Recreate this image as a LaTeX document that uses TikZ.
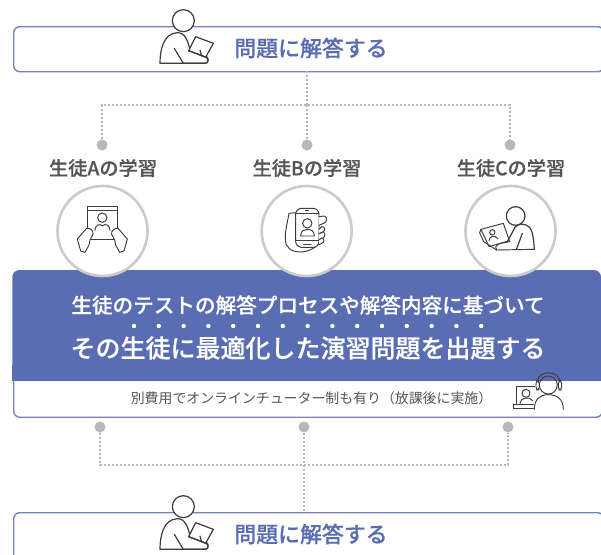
\documentclass[tikz,border=0pt]{standalone}
\usepackage{fontspec}
\setmainfont{Noto Sans CJK JP}
\newfontfamily\semibold{Noto Sans CJK JP Medium}[FakeBold=0.3]
\definecolor{brand}{HTML}{5A6DB2}
\definecolor{dotgrey}{HTML}{B8B8B8}
\definecolor{ringgrey}{HTML}{CBCBCB}
\definecolor{ink}{HTML}{3C3C3C}
\definecolor{labelgrey}{HTML}{555555}
\tikzset{
  panel/.style={draw=brand!85!white,line width=1.4pt,fill=white,rounded corners=6pt},
  titletext/.style={text=brand,font=\fontsize{21.9}{21.9}\selectfont\semibold,inner sep=0pt},
  labeltext/.style={text=labelgrey,font=\fontsize{19.2}{19.2}\selectfont\semibold,inner sep=0pt},
  ring/.style={circle,draw=ringgrey,line width=2.6pt,fill=white,minimum size=90pt,inner sep=0pt},
  gdot/.style={circle,fill=dotgrey,minimum size=11pt,inner sep=0pt},
  link/.style={draw=dotgrey,line width=2.6pt,dash pattern=on 2.4pt off 1.6pt},
  icon/.style={draw=ink,line width=1.2pt,line join=round,line cap=round},
  thin icon/.style={draw=ink,line width=0.95pt,line join=round,line cap=round},
}
\newcommand{\readericon}[2]{%
\begin{scope}[shift={(#1,#2)},x=0.3333pt,y=-0.3333pt]
  \fill[white] (130,62) circle (33);
  \draw[icon,fill=white] (60,190) .. controls (60,150) and (70,100) .. (112,98) .. controls (135,97) and (145,125) .. (150,150) -- (200,170) .. controls (208,178) and (205,190) .. (195,190) -- cycle;
  \draw[icon] (130,62) circle (33);
  \draw[icon] (103,145) -- (130,190) -- (195,190);
  \draw[icon,fill=white] (167,110) -- (220,130) -- (197,172) -- (146,152) -- cycle;
  \draw[icon] (146,152) -- (190,168) .. controls (208,172) and (208,190) .. (195,190);
  \draw[icon] (180,150) -- (185,168);
\end{scope}}
\begin{document}
\begin{tikzpicture}[x=1pt,y=-1pt]
\useasboundingbox (0,0) rectangle (601,554);
\fill[white] (0,0) rectangle (601,554);

% boxes
\begin{scope}
\clip (0,0) rectangle (601,554);
\node[panel,anchor=north west,minimum width=590pt,minimum height=45pt] (topbox) at (13,26) {};
\node[panel,anchor=north west,minimum width=590pt,minimum height=60pt] (botbox) at (13,512) {};
\node[panel,anchor=north west,minimum width=588.5pt,minimum height=46pt] (lower) at (13,370.5) {};
\fill[brand,rounded corners=7pt] (12.3,375) -- (12.3,270) -- (601,270) -- (601,375) -- cycle;
\fill[brand] (12.3,365) rectangle (601,380.5);
\end{scope}
\node[panel,draw=none,fill=none,anchor=north west,minimum width=588pt,minimum height=110pt] (main) at (13,270) {};

% connectors
\coordinate (tj) at (307,105);
\coordinate (tl) at (102,105);
\coordinate (tr) at (510,105);
\coordinate (bj) at (304,465);
\coordinate (bl) at (100,465);
\coordinate (br) at (508,465);
\node[gdot] (da) at (102,145) {};
\node[gdot] (db) at (307,145) {};
\node[gdot] (dc) at (510,145) {};
\node[gdot] (ea) at (100,427) {};
\node[gdot] (eb) at (304,427) {};
\node[gdot] (ec) at (508,427) {};
\draw[link] (307,71) -- (tj);
\draw[link] (da) -- (tl) -- (tr) -- (dc);
\draw[link] (tj) -- (db);
\draw[link] (ea) -- (bl) -- (br) -- (ec);
\draw[link] (eb) -- (bj) -- (304,512);

% reader icons
\readericon{140}{0}
\readericon{140}{486}

% titles
\node[titletext] (t1) at (311,48) {問題に解答する};
\node[titletext] (t2) at (311,534) {問題に解答する};
\node[labeltext] (la) at (103,168) {生徒Aの学習};
\node[labeltext] (lb) at (307,168) {生徒Bの学習};
\node[labeltext] (lc) at (511,168) {生徒Cの学習};

% circles
\node[ring] (ca) at (102.5,231) {};
\node[ring] (cb) at (306.7,231) {};
\node[ring] (cc) at (510.5,231) {};

% tablet icon
\begin{scope}[shift={(70,195)},x=0.3333pt,y=-0.3333pt]
  \draw[thin icon] (52,112) -- (52,33) -- (142,33) -- (142,112);
  \draw[thin icon] (52,46) -- (142,46);
  \draw[thin icon] (62,133) -- (132,133);
  \draw[thin icon] (97,68) circle (14);
  \draw[thin icon] (75,106) .. controls (75,90) and (90,84) .. (97,93) .. controls (105,84) and (120,90) .. (120,106);
  \draw[thin icon,fill=white] (32,168) -- (22,132) -- (50,100) .. controls (60,98) and (72,108) .. (69,118) -- (60,135) -- (57,150) -- (45,172) -- cycle;
  \draw[thin icon,fill=white] (162,168) -- (172,132) -- (144,100) .. controls (134,98) and (122,108) .. (125,118) -- (134,135) -- (137,150) -- (149,172) -- cycle;
\end{scope}

% phone icon
\begin{scope}[shift={(275,200)},x=0.3333pt,y=-0.3333pt]
  \draw[thin icon] (62,38) -- (42,40) .. controls (38,65) and (30,90) .. (31,118) .. controls (32,145) and (50,155) .. (75,156) .. controls (100,156) and (118,145) .. (132,132);
  \draw[thin icon,fill=white,rounded corners=6pt] (62,25) rectangle (132,142);
  \draw[thin icon] (62,40) -- (132,40);
  \draw[thin icon] (62,120) -- (132,120);
  \fill[ink] (91,30) rectangle (102,33);
  \draw[thin icon] (86,132) -- (108,132);
  \draw[thin icon] (97,70) circle (14);
  \draw[thin icon] (77,108) .. controls (77,92) and (88,88) .. (97,88) .. controls (107,88) and (118,92) .. (118,108) -- cycle;
  \draw[thin icon,fill=white] (132,50) -- (148,48) .. controls (158,52) and (156,66) .. (148,69) -- (132,76);
  \draw[thin icon,fill=white] (132,88) -- (140,80) .. controls (150,78) and (152,92) .. (144,96) -- (132,100);
  \draw[thin icon,fill=white] (132,102) -- (143,96) .. controls (152,98) and (152,110) .. (144,114) -- (132,118);
  \draw[thin icon,fill=white] (132,120) -- (140,114) .. controls (150,116) and (148,128) .. (140,130) -- (132,134);
\end{scope}

% laptop icon
\begin{scope}[shift={(475,200)},x=0.3333pt,y=-0.3333pt]
  \draw[icon] (122,48) circle (28);
  \draw[icon] (178,148) .. controls (176,120) and (174,95) .. (164,82) .. controls (152,70) and (128,68) .. (120,82) -- (97,125);
  \draw[icon] (142,100) -- (125,146);
  \draw[thin icon] (65,150) -- (178,148);
  \draw[thin icon] (65,150) .. controls (55,135) and (70,130) .. (105,125);
  \draw[thin icon] (18,88) -- (85,70) -- (103,122) -- (42,140) -- cycle;
  \draw[thin icon] (18,88) -- (14,98) -- (26,125) -- (65,150);
  \draw[thin icon] (52,97) circle (8);
  \draw[thin icon] (42,122) .. controls (42,108) and (62,104) .. (68,116);
\end{scope}

% main text
\node[inner sep=0pt,text=white,font=\fontsize{20.6}{20.6}\selectfont\semibold] (m1) at (308,305) {生徒のテストの解答プロセスや解答内容に基づいて};
\node[inner sep=0pt,text=white,font=\fontsize{25}{25}\selectfont\semibold] (m2) at (308,348) {その生徒に最適化した演習問題を出題する};
\foreach \i in {2,...,16} \fill[white] ({72+24.8*(\i+0.5)},326) circle (2.2);

% note
\node[inner sep=0pt,text=labelgrey,font=\fontsize{13.9}{13.9}\selectfont] (note) at (311.5,398) {別費用でオンラインチューター制も有り（放課後に実施）};

% headset icon
\begin{scope}[shift={(440,360)},x=0.3333pt,y=-0.3333pt]
  \fill[white,rounded corners=2pt] (290,72) -- (290,106) -- (362,106) -- (362,72);
  \draw[thin icon] (325,75) circle (27);
  \draw[thin icon] (292,64) .. controls (295,30) and (355,30) .. (360,64);
  \draw[thin icon,rounded corners=3pt] (288,62) rectangle (298,90);
  \draw[thin icon,rounded corners=3pt] (355,62) rectangle (365,90);
  \draw[thin icon] (283,148) .. controls (283,118) and (300,104) .. (325,104) .. controls (352,104) and (370,118) .. (370,148);
  \draw[thin icon] (285,80) -- (228,80) -- (228,132);
  \draw[thin icon] (220,132) -- (280,132) (220,145) -- (280,145) (220,132) -- (220,145);
  \draw[thin icon] (258,100) circle (12);
  \draw[thin icon] (240,130) .. controls (240,112) and (270,108) .. (278,122);
\end{scope}
\end{tikzpicture}
\end{document}
